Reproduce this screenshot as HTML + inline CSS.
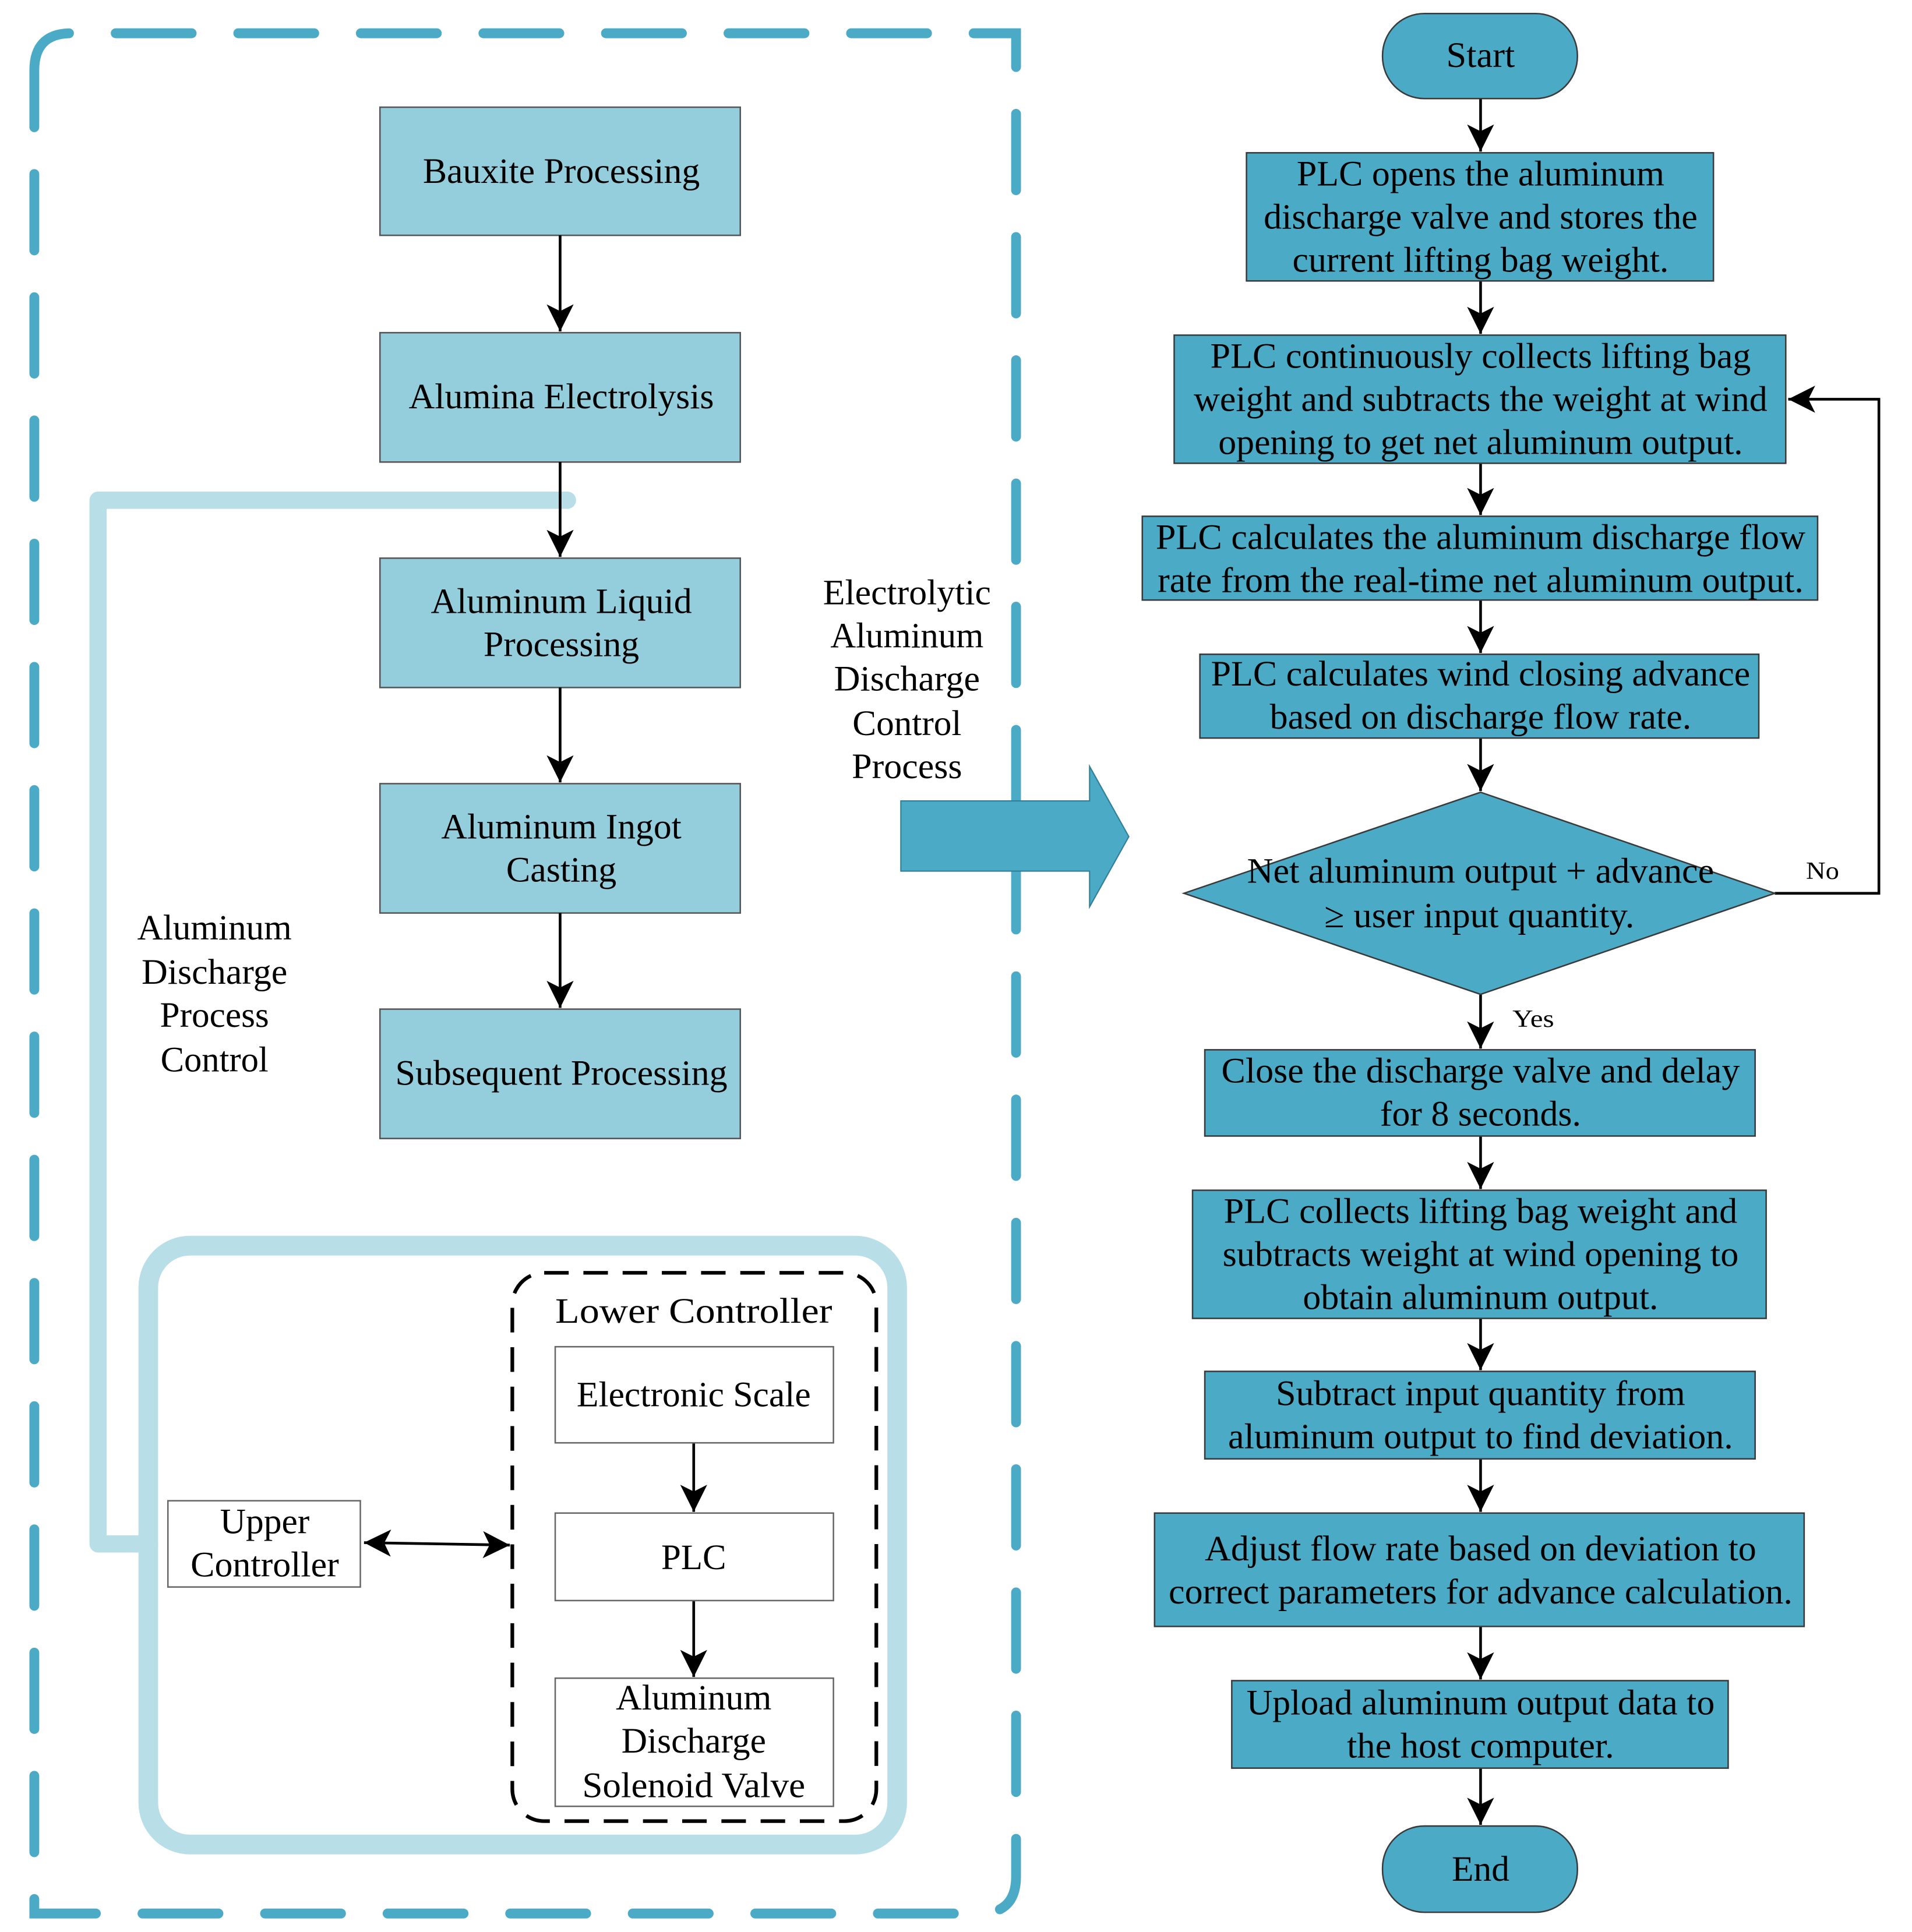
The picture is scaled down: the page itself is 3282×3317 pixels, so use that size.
<!DOCTYPE html>
<html><head><meta charset="utf-8"><style>html,body{margin:0;padding:0;background:#fff}svg{display:block}</style></head>
<body>
<svg width="3282" height="3317" viewBox="0 0 1560 1568" preserveAspectRatio="none" xmlns="http://www.w3.org/2000/svg" font-family="'Liberation Serif', serif" font-size="29">
<defs>
<marker id="a" markerWidth="10" markerHeight="10" refX="10" refY="5" orient="auto" markerUnits="userSpaceOnUse" viewBox="0 0 10 10"><path d="M0,0 L10,5 L0,10 L3,5 z" fill="#000"/></marker>
<marker id="b" viewBox="0 0 20 20" markerWidth="22" markerHeight="22" refX="20" refY="10" orient="auto-start-reverse" markerUnits="userSpaceOnUse"><path d="M0,0 L20,10 L0,20 L5,10 z" fill="#000"/></marker>
</defs>
<!-- outer dashed -->
<path d="M28,72 L28,57 Q28,27 58,27 L829,27 L829,1523 Q829,1553 799,1553 L28,1553 Z" fill="none" stroke="#4BAAC6" stroke-width="8" stroke-dasharray="62,38" stroke-linecap="round"/>
<!-- light connector -->
<path d="M463,406 L80,406 L80,1253 L122,1253" fill="none" stroke="#B8DEE8" stroke-width="14" stroke-linecap="round" stroke-linejoin="round"/>
<rect x="121" y="1011" width="611" height="486" rx="34" fill="none" stroke="#B8DEE8" stroke-width="16"/>
<rect x="418" y="1033" width="297" height="445" rx="26" fill="none" stroke="#000" stroke-width="3" stroke-dasharray="20,12"/>

<g fill="#94CDDB" stroke="#555" stroke-width="1.2">
<rect x="310" y="87" width="294" height="104"/>
<rect x="310" y="270" width="294" height="105"/>
<rect x="310" y="453" width="294" height="105"/>
<rect x="310" y="636" width="294" height="105"/>
<rect x="310" y="819" width="294" height="105"/>
</g>
<g stroke="#000" stroke-width="2.2" fill="none">
<line x1="457" y1="191" x2="457" y2="269" marker-end="url(#b)"/>
<line x1="457" y1="375" x2="457" y2="452" marker-end="url(#b)"/>
<line x1="457" y1="558" x2="457" y2="635" marker-end="url(#b)"/>
<line x1="457" y1="741" x2="457" y2="818" marker-end="url(#b)"/>
<line x1="566" y1="1171" x2="566" y2="1227" marker-end="url(#b)"/>
<line x1="566" y1="1299" x2="566" y2="1361" marker-end="url(#b)"/>
<line x1="297" y1="1252" x2="416" y2="1254" marker-start="url(#b)" marker-end="url(#b)"/>
</g>
<g fill="#fff" stroke="#666" stroke-width="1.2">
<rect x="453" y="1093" width="227" height="78"/>
<rect x="453" y="1228" width="227" height="71"/>
<rect x="453" y="1362" width="227" height="104"/>
<rect x="137" y="1218" width="157" height="70"/>
</g>
<g text-anchor="middle" dominant-baseline="central" lengthAdjust="spacingAndGlyphs" fill="#000">
<text x="458" y="139" textLength="226" lengthAdjust="spacingAndGlyphs">Bauxite Processing</text>
<text x="458" y="322" textLength="249" lengthAdjust="spacingAndGlyphs">Alumina Electrolysis</text>
<text x="458" y="488" textLength="213" lengthAdjust="spacingAndGlyphs">Aluminum Liquid</text>
<text x="458" y="523" textLength="127" lengthAdjust="spacingAndGlyphs">Processing</text>
<text x="458" y="671" textLength="196" lengthAdjust="spacingAndGlyphs">Aluminum Ingot</text>
<text x="458" y="706" textLength="90" lengthAdjust="spacingAndGlyphs">Casting</text>
<text x="458" y="871" textLength="271" lengthAdjust="spacingAndGlyphs">Subsequent Processing</text>
<text x="566" y="1064" textLength="226" lengthAdjust="spacingAndGlyphs">Lower Controller</text>
<text x="566" y="1132" textLength="191" lengthAdjust="spacingAndGlyphs">Electronic Scale</text>
<text x="566" y="1264" textLength="53" lengthAdjust="spacingAndGlyphs">PLC</text>
<text x="566" y="1378" textLength="127" lengthAdjust="spacingAndGlyphs">Aluminum</text>
<text x="566" y="1413" textLength="118" lengthAdjust="spacingAndGlyphs">Discharge</text>
<text x="566" y="1449" textLength="182" lengthAdjust="spacingAndGlyphs">Solenoid Valve</text>
<text x="216" y="1235" textLength="73" lengthAdjust="spacingAndGlyphs">Upper</text>
<text x="216" y="1270" textLength="121" lengthAdjust="spacingAndGlyphs">Controller</text>
<text x="175" y="753" textLength="126" lengthAdjust="spacingAndGlyphs">Aluminum</text>
<text x="175" y="789" textLength="119" lengthAdjust="spacingAndGlyphs">Discharge</text>
<text x="175" y="824" textLength="89" lengthAdjust="spacingAndGlyphs">Process</text>
<text x="175" y="860" textLength="88" lengthAdjust="spacingAndGlyphs">Control</text>
<text x="740" y="481" textLength="137" lengthAdjust="spacingAndGlyphs">Electrolytic</text>
<text x="740" y="516" textLength="125" lengthAdjust="spacingAndGlyphs">Aluminum</text>
<text x="740" y="551" textLength="119" lengthAdjust="spacingAndGlyphs">Discharge</text>
<text x="740" y="587" textLength="89" lengthAdjust="spacingAndGlyphs">Control</text>
<text x="740" y="622" textLength="90" lengthAdjust="spacingAndGlyphs">Process</text>
</g>
<!-- big arrow -->
<path d="M735,650 L889,650 L889,622 L921,679 L889,736 L889,707 L735,707 Z" fill="#4BAAC6" stroke="#2e7f97" stroke-width="1"/>

<!-- right flowchart -->
<g stroke="#000" stroke-width="2.2" fill="none">
<line x1="1208" y1="80" x2="1208" y2="123" marker-end="url(#b)"/>
<line x1="1208" y1="228" x2="1208" y2="271" marker-end="url(#b)"/>
<line x1="1208" y1="376" x2="1208" y2="418" marker-end="url(#b)"/>
<line x1="1208" y1="487" x2="1208" y2="530" marker-end="url(#b)"/>
<line x1="1208" y1="599" x2="1208" y2="642" marker-end="url(#b)"/>
<line x1="1208" y1="807" x2="1208" y2="851" marker-end="url(#b)"/>
<line x1="1208" y1="922" x2="1208" y2="965" marker-end="url(#b)"/>
<line x1="1208" y1="1070" x2="1208" y2="1112" marker-end="url(#b)"/>
<line x1="1208" y1="1184" x2="1208" y2="1227" marker-end="url(#b)"/>
<line x1="1208" y1="1320" x2="1208" y2="1363" marker-end="url(#b)"/>
<line x1="1208" y1="1435" x2="1208" y2="1481" marker-end="url(#b)"/>
<path d="M1448,725 L1533,725 L1533,324 L1459,324" marker-end="url(#b)"/>
</g>
<g fill="#4BAAC6" stroke="#3a3a3a" stroke-width="1.2">
<rect x="1128" y="11" width="159" height="69" rx="34"/>
<rect x="1017" y="124" width="381" height="104"/>
<rect x="958" y="272" width="499" height="104"/>
<rect x="932" y="419" width="551" height="68"/>
<rect x="979" y="531" width="456" height="68"/>
<path d="M1208,643 L1448,725 L1208,807 L966,725 Z"/>
<rect x="983" y="852" width="449" height="70"/>
<rect x="973" y="966" width="468" height="104"/>
<rect x="983" y="1113" width="449" height="71"/>
<rect x="942" y="1228" width="530" height="92"/>
<rect x="1005" y="1364" width="405" height="71"/>
<rect x="1128" y="1482" width="159" height="70" rx="34"/>
</g>
<g text-anchor="middle" dominant-baseline="central" fill="#000">
<text x="1208" y="45" textLength="56" lengthAdjust="spacingAndGlyphs">Start</text>
<text x="1208" y="141" textLength="300" lengthAdjust="spacingAndGlyphs">PLC opens the aluminum</text>
<text x="1208" y="176" textLength="354" lengthAdjust="spacingAndGlyphs">discharge valve and stores the</text>
<text x="1208" y="211" textLength="307" lengthAdjust="spacingAndGlyphs">current lifting bag weight.</text>
<text x="1208" y="289" textLength="441" lengthAdjust="spacingAndGlyphs">PLC continuously collects lifting bag</text>
<text x="1208" y="324" textLength="468" lengthAdjust="spacingAndGlyphs">weight and subtracts the weight at wind</text>
<text x="1208" y="359" textLength="428" lengthAdjust="spacingAndGlyphs">opening to get net aluminum output.</text>
<text x="1208" y="436" textLength="530" lengthAdjust="spacingAndGlyphs">PLC calculates the aluminum discharge flow</text>
<text x="1208" y="471" textLength="527" lengthAdjust="spacingAndGlyphs">rate from the real-time net aluminum output.</text>
<text x="1208" y="547" textLength="440" lengthAdjust="spacingAndGlyphs">PLC calculates wind closing advance</text>
<text x="1208" y="582" textLength="344" lengthAdjust="spacingAndGlyphs">based on discharge flow rate.</text>
<text x="1208" y="707" textLength="381" lengthAdjust="spacingAndGlyphs">Net aluminum output + advance</text>
<text x="1207" y="743" textLength="253" lengthAdjust="spacingAndGlyphs">≥ user input quantity.</text>
<text x="1487" y="707" font-size="20" textLength="27" lengthAdjust="spacingAndGlyphs">No</text>
<text x="1251" y="827" font-size="20" textLength="34" lengthAdjust="spacingAndGlyphs">Yes</text>
<text x="1208" y="869" textLength="423" lengthAdjust="spacingAndGlyphs">Close the discharge valve and delay</text>
<text x="1208" y="904" textLength="164" lengthAdjust="spacingAndGlyphs">for 8 seconds.</text>
<text x="1208" y="983" textLength="419" lengthAdjust="spacingAndGlyphs">PLC collects lifting bag weight and</text>
<text x="1208" y="1018" textLength="421" lengthAdjust="spacingAndGlyphs">subtracts weight at wind opening to</text>
<text x="1208" y="1053" textLength="290" lengthAdjust="spacingAndGlyphs">obtain aluminum output.</text>
<text x="1208" y="1131" textLength="334" lengthAdjust="spacingAndGlyphs">Subtract input quantity from</text>
<text x="1208" y="1166" textLength="412" lengthAdjust="spacingAndGlyphs">aluminum output to find deviation.</text>
<text x="1208" y="1257" textLength="450" lengthAdjust="spacingAndGlyphs">Adjust flow rate based on deviation to</text>
<text x="1208" y="1292" textLength="509" lengthAdjust="spacingAndGlyphs">correct parameters for advance calculation.</text>
<text x="1208" y="1382" textLength="382" lengthAdjust="spacingAndGlyphs">Upload aluminum output data to</text>
<text x="1208" y="1417" textLength="218" lengthAdjust="spacingAndGlyphs">the host computer.</text>
<text x="1208" y="1517" textLength="47" lengthAdjust="spacingAndGlyphs">End</text>
</g>
</svg>
</body></html>
